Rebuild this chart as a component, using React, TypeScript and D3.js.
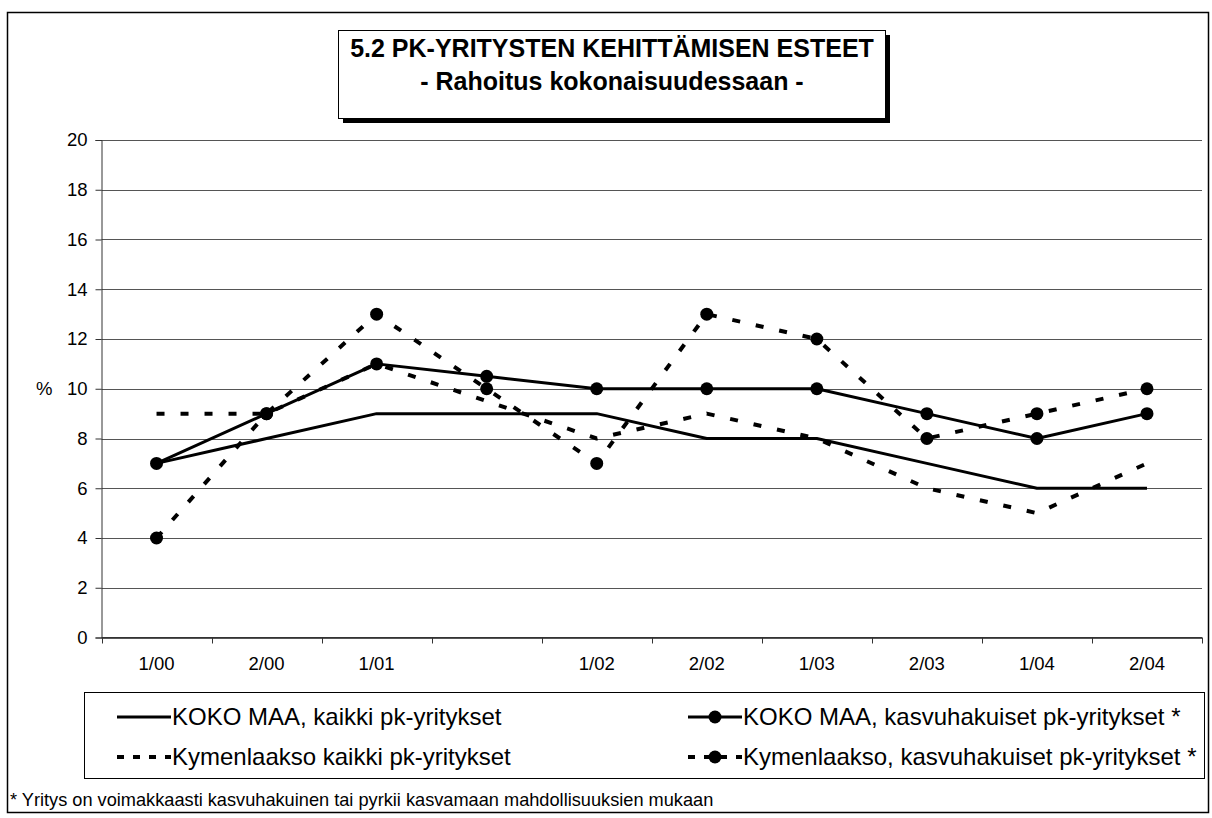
import React, { useEffect, useRef } from 'react';
import * as d3 from 'd3';

const categories = ['1/00', '2/00', '1/01', '', '1/02', '2/02', '1/03', '2/03', '1/04', '2/04'];
const kokoKaikki = [7, 8, 9, 9, 9, 8, 8, 7, 6, 6];
const kokoKasvu = [7, 9, 11, 10.5, 10, 10, 10, 9, 8, 9];
const kymenKaikki = [9, 9, 11, 9.5, 8, 9, 8, 6, 5, 7];
const kymenKasvu = [4, 9, 13, 10, 7, 13, 12, 8, 9, 10];
const yTicks = [0, 2, 4, 6, 8, 10, 12, 14, 16, 18, 20];

const seriesNames = [
  'KOKO MAA, kaikki pk-yritykset',
  'KOKO MAA, kasvuhakuiset pk-yritykset *',
  'Kymenlaakso kaikki pk-yritykset',
  'Kymenlaakso, kasvuhakuiset pk-yritykset *',
];

const FONT = '"Liberation Sans", Arial, sans-serif';

export default function App() {
  const ref = useRef<SVGSVGElement>(null);

  useEffect(() => {
    document.body.style.margin = '0';
    const svg = d3.select(ref.current);
    svg.selectAll('*').remove();

    const W = 1212;
    const H = 818;
    svg.attr('width', W).attr('height', H).style('font-family', FONT);

    // outer frame
    svg
      .append('rect')
      .attr('x', 7.5)
      .attr('y', 12.5)
      .attr('width', 1201)
      .attr('height', 800)
      .attr('fill', '#fff')
      .attr('stroke', '#000')
      .attr('stroke-width', 1.5);

    const left = 101.5;
    const right = 1202;
    const top = 140;
    const bottom = 637.5;

    const x = d3
      .scaleBand<number>()
      .domain(d3.range(categories.length))
      .range([left, right]);
    const y = d3.scaleLinear().domain([0, 20]).range([bottom, top]);
    const cx = (i: number) => (x(i) as number) + x.bandwidth() / 2;

    // gridlines
    svg
      .append('g')
      .selectAll('line')
      .data(yTicks)
      .enter()
      .append('line')
      .attr('x1', left)
      .attr('x2', right)
      .attr('y1', (d) => Math.round(y(d)) + 0.5)
      .attr('y2', (d) => Math.round(y(d)) + 0.5)
      .attr('stroke', '#555')
      .attr('stroke-width', 1);

    // y axis
    const yAxis = svg
      .append('g')
      .attr('transform', `translate(${left},0)`)
      .call(d3.axisLeft(y).tickValues(yTicks).tickSize(6).tickPadding(8));
    yAxis.select('.domain').attr('stroke', '#333');
    yAxis.selectAll('.tick line').attr('stroke', '#333');
    yAxis
      .selectAll('.tick text')
      .attr('font-size', 18.5)
      .attr('font-family', FONT)
      .attr('fill', '#000');

    svg
      .append('text')
      .attr('x', 36)
      .attr('y', y(10))
      .attr('dy', '0.35em')
      .attr('font-size', 18.5)
      .text('%');

    // x axis
    svg
      .append('line')
      .attr('x1', left)
      .attr('x2', right)
      .attr('y1', bottom)
      .attr('y2', bottom)
      .attr('stroke', '#333');
    svg
      .append('g')
      .selectAll('line')
      .data(d3.range(categories.length + 1))
      .enter()
      .append('line')
      .attr('x1', (i) => Math.round(left + i * x.bandwidth()) + 0.5)
      .attr('x2', (i) => Math.round(left + i * x.bandwidth()) + 0.5)
      .attr('y1', bottom)
      .attr('y2', bottom + 6)
      .attr('stroke', '#333');
    svg
      .append('g')
      .selectAll('text')
      .data(categories)
      .enter()
      .append('text')
      .attr('x', (d, i) => cx(i))
      .attr('y', bottom + 32)
      .attr('text-anchor', 'middle')
      .attr('font-size', 18.5)
      .text((d) => d);

    // lines
    const lineGen = d3
      .line<number>()
      .x((d, i) => cx(i))
      .y((d) => y(d));

    const series = [
      { data: kokoKaikki, dash: null, marker: false },
      { data: kokoKasvu, dash: null, marker: true },
      { data: kymenKaikki, dash: '8,16', marker: false },
      { data: kymenKasvu, dash: '8,16', marker: true },
    ];

    series.forEach((s) => {
      svg
        .append('path')
        .datum(s.data)
        .attr('d', lineGen)
        .attr('fill', 'none')
        .attr('stroke', '#000')
        .attr('stroke-width', s.dash ? 4 : 3)
        .attr('stroke-dasharray', s.dash)
        .attr('stroke-linejoin', 'round');
      if (s.marker) {
        svg
          .append('g')
          .selectAll('circle')
          .data(s.data)
          .enter()
          .append('circle')
          .attr('cx', (d, i) => cx(i))
          .attr('cy', (d) => y(d))
          .attr('r', 6.5)
          .attr('fill', '#000');
      }
    });

    // title box
    svg
      .append('rect')
      .attr('x', 343)
      .attr('y', 35)
      .attr('width', 547)
      .attr('height', 88)
      .attr('fill', '#000');
    svg
      .append('rect')
      .attr('x', 338.5)
      .attr('y', 30.5)
      .attr('width', 547)
      .attr('height', 88)
      .attr('fill', '#fff')
      .attr('stroke', '#000')
      .attr('stroke-width', 1);
    svg
      .append('text')
      .attr('x', 612)
      .attr('y', 57)
      .attr('text-anchor', 'middle')
      .attr('font-size', 25)
      .attr('font-weight', 'bold')
      .text('5.2 PK-YRITYSTEN KEHITTÄMISEN ESTEET');
    svg
      .append('text')
      .attr('x', 612)
      .attr('y', 90)
      .attr('text-anchor', 'middle')
      .attr('font-size', 25)
      .attr('font-weight', 'bold')
      .text('- Rahoitus kokonaisuudessaan -');

    // legend
    const lg = svg.append('g');
    lg.append('rect')
      .attr('x', 84.5)
      .attr('y', 692.5)
      .attr('width', 1120)
      .attr('height', 86)
      .attr('fill', '#fff')
      .attr('stroke', '#000')
      .attr('stroke-width', 1);
    const legendPos = [
      { x: 117, y: 717 },
      { x: 688, y: 717 },
      { x: 117, y: 757 },
      { x: 688, y: 757 },
    ];
    series.forEach((s, i) => {
      const p = legendPos[i];
      lg.append('line')
        .attr('x1', p.x)
        .attr('x2', p.x + 54)
        .attr('y1', p.y)
        .attr('y2', p.y)
        .attr('stroke', '#000')
        .attr('stroke-width', s.dash ? 4 : 3)
        .attr('stroke-dasharray', s.dash ? '7,9' : null);
      if (s.marker) {
        lg.append('circle')
          .attr('cx', p.x + 27)
          .attr('cy', p.y)
          .attr('r', 6.5)
          .attr('fill', '#000');
      }
      lg.append('text')
        .attr('x', p.x + 55)
        .attr('y', p.y)
        .attr('dy', '0.35em')
        .attr('font-size', 24)
        .text(seriesNames[i]);
    });

    // footnote
    svg
      .append('text')
      .attr('x', 10)
      .attr('y', 806)
      .attr('font-size', 18.2)
      .text('* Yritys on voimakkaasti kasvuhakuinen tai pyrkii kasvamaan mahdollisuuksien mukaan');

    return () => {
      svg.selectAll('*').remove();
    };
  });

  return <svg ref={ref} style={{ display: 'block' }} />;
}
